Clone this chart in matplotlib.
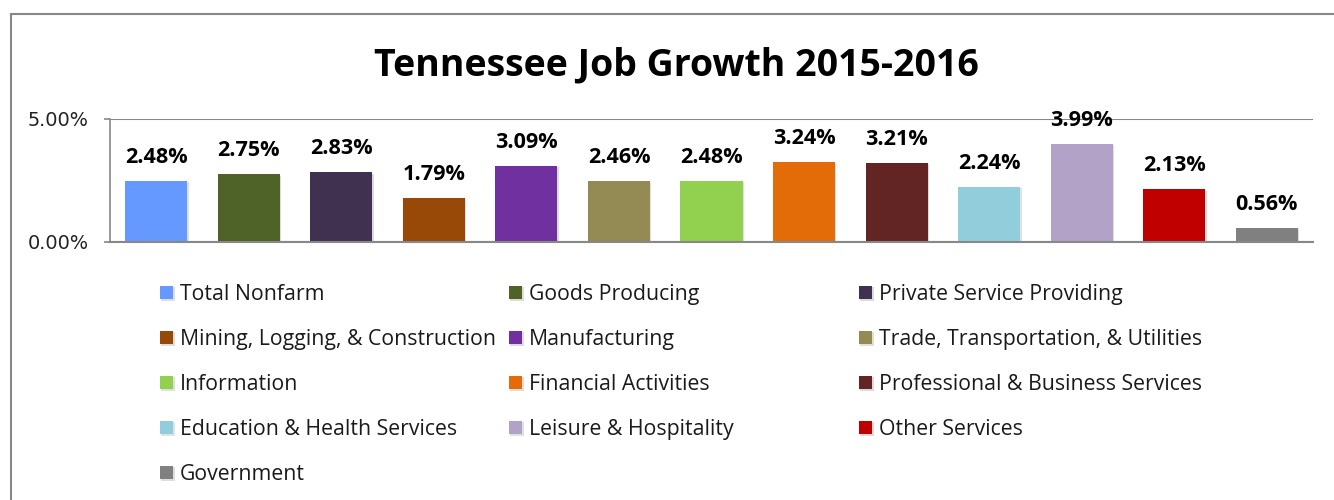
import matplotlib.pyplot as plt
from matplotlib.patches import Rectangle
from matplotlib.ticker import FixedLocator, FuncFormatter
import matplotlib.patheffects as pe

# Year-over-year job growth by supersector, Tennessee
sectors = [
    'Total Nonfarm', 'Goods Producing', 'Private Service Providing',
    'Mining, Logging, & Construction', 'Manufacturing',
    'Trade, Transportation, & Utilities', 'Information',
    'Financial Activities', 'Professional & Business Services',
    'Education & Health Services', 'Leisure & Hospitality',
    'Other Services', 'Government',
]
growth = [2.48, 2.75, 2.83, 1.79, 3.09, 2.46, 2.48, 3.24, 3.21, 2.24, 3.99, 2.13, 0.56]
colors = ['#6699FF', '#4F6228', '#403151', '#984807', '#7030A0', '#948A54', '#92D050',
          '#E36C09', '#632523', '#92CDDC', '#B2A2C7', '#C00000', '#808080']
yticks = [0.0, 5.0]

W, H = 1334, 500
fig = plt.figure(figsize=(W / 100, H / 100), dpi=100)
ax = fig.add_axes([110 / W, 1 - 241.5 / H, (1313 - 110) / W, (241.5 - 119) / H])

# outer chart border (only left and top edges fall inside the canvas)
fig.add_artist(Rectangle((11 / W, -0.2), 2.0, 1.2 - 13.5 / H, transform=fig.transFigure,
                         fill=False, edgecolor='#888888', linewidth=1.5))

x = list(range(len(growth)))
bars = ax.bar(x, growth, width=0.67, color=colors, zorder=3)
for b in bars:
    b.set_path_effects([pe.SimplePatchShadow(offset=(1, -1), alpha=0.15), pe.Normal()])

for xi, v in zip(x, growth):
    ax.annotate(f'{v:.2f}%', (xi, v), xytext=(0, 13), textcoords='offset points',
                ha='center', va='baseline', fontsize=15.6, fontweight='bold',
                family='Open Sans', color='black', zorder=5)

ax.set_xlim(-0.5, len(growth) - 0.5)
ax.set_ylim(0, 5)
ax.yaxis.set_major_locator(FixedLocator(yticks))
ax.yaxis.set_major_formatter(FuncFormatter(lambda v, p: f'{v:.2f}%'))
ax.set_xticks([])
ax.grid(axis='y', color='#888888', linewidth=1.5, zorder=1)
for side in ['top', 'right', 'bottom']:
    ax.spines[side].set_visible(False)
ax.spines['left'].set_color('#888888')
ax.spines['left'].set_linewidth(1.2)
ax.tick_params(axis='y', length=4.5, width=1.2, color='#888888', pad=11,
               labelsize=13.9, labelcolor='#222222')
ax.axhline(0, color='#888888', linewidth=1.5, zorder=4, clip_on=False)

fig.text(676 / W, 1 - 65 / H, 'Tennessee Job Growth 2015-2016', ha='center', va='center',
         fontsize=27, fontweight='bold', family='Open Sans')

# legend laid out row by row in three equal-width columns
col_x = [160, 509, 859]
for c in range(3):
    idx = list(range(c, len(sectors), 3))
    fig.legend([bars[i] for i in idx], [sectors[i] for i in idx],
               loc='upper left', bbox_to_anchor=(col_x[c] / W, 1 - 284 / H),
               frameon=False, borderpad=0, borderaxespad=0,
               handlelength=0.62, handleheight=0.62, handletextpad=0.3,
               labelspacing=1.13, prop={'family': 'Open Sans', 'size': 15.3},
               labelcolor='#1a1a1a')

fig.savefig('out.png', dpi=100)
